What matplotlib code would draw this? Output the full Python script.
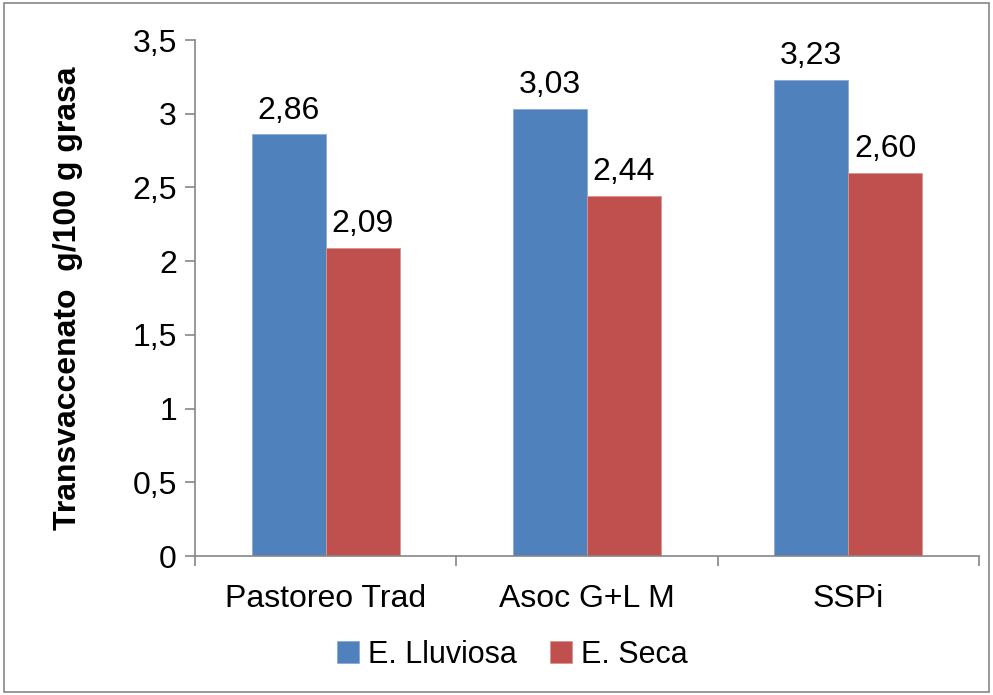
import matplotlib
matplotlib.use('agg')
import numpy as np
import matplotlib.pyplot as plt
from matplotlib.patches import Rectangle

plt.rcParams['font.family'] = ['Liberation Sans', 'DejaVu Sans']

categorias = ['Pastoreo Trad', 'Asoc G+L M', 'SSPi']
lluviosa = [2.86, 3.03, 3.23]
seca = [2.09, 2.44, 2.60]
series_nombres = ['E. Lluviosa', 'E. Seca']
yticks = [0, 0.5, 1, 1.5, 2, 2.5, 3, 3.5]

fig = plt.figure(figsize=(9.93, 6.95), dpi=100)
ax = fig.add_axes([0.1964, 0.2, 0.7895, 0.7424])

x = np.arange(len(categorias))
w = 0.283
b1 = ax.bar(x - w/2, lluviosa, w, color='#4F81BD', edgecolor='#8EAAD6', linewidth=0.6, label=series_nombres[0])
b2 = ax.bar(x + w/2, seca, w, color='#C0504D', edgecolor='#D99694', linewidth=0.6, label=series_nombres[1])

fs = 23
for bars, vals in [(b1, lluviosa), (b2, seca)]:
    for r, v in zip(bars, vals):
        ax.text(r.get_x() + r.get_width()/2, v + 0.06, ('%.2f' % v).replace('.', ','),
                ha='center', va='bottom', fontsize=fs)

ax.set_xlim(-0.5, 2.5)
ax.set_ylim(0, 3.5)
ax.set_yticks(yticks)
ax.set_yticklabels([('%g' % t).replace('.', ',') for t in yticks], fontsize=fs)
ax.set_xticks([-0.5, 0.5, 1.5, 2.5], minor=False)
ax.set_xticklabels([])
ax.set_xticks(x, minor=True)
ax.set_xticklabels(categorias, minor=True, fontsize=fs)
ax.tick_params(axis='x', which='minor', length=0, pad=20)
ax.tick_params(axis='x', which='major', length=7, color='#868686', width=1.2)
ax.tick_params(axis='y', length=7, color='#868686', width=1.2, pad=6)

for s in ['top', 'right']:
    ax.spines[s].set_visible(False)
for s in ['left', 'bottom']:
    ax.spines[s].set_color('#868686')
    ax.spines[s].set_linewidth(1.2)

ax.set_ylabel('Transvaccenato  g/100 g grasa', fontsize=fs, fontweight='bold')
ax.yaxis.set_label_coords(-0.143, 0.5)

fig.legend(handles=[b1, b2], loc='center', bbox_to_anchor=(0.516, 0.058), ncol=2, frameon=False,
           fontsize=22, handlelength=0.7, handleheight=0.7, handletextpad=0.3, columnspacing=1.1)

fig.patches.append(Rectangle((0.004, 0.005), 0.992, 0.99, transform=fig.transFigure,
                             fill=False, edgecolor='#868686', linewidth=1.2))

plt.savefig('out.png', dpi=100)
